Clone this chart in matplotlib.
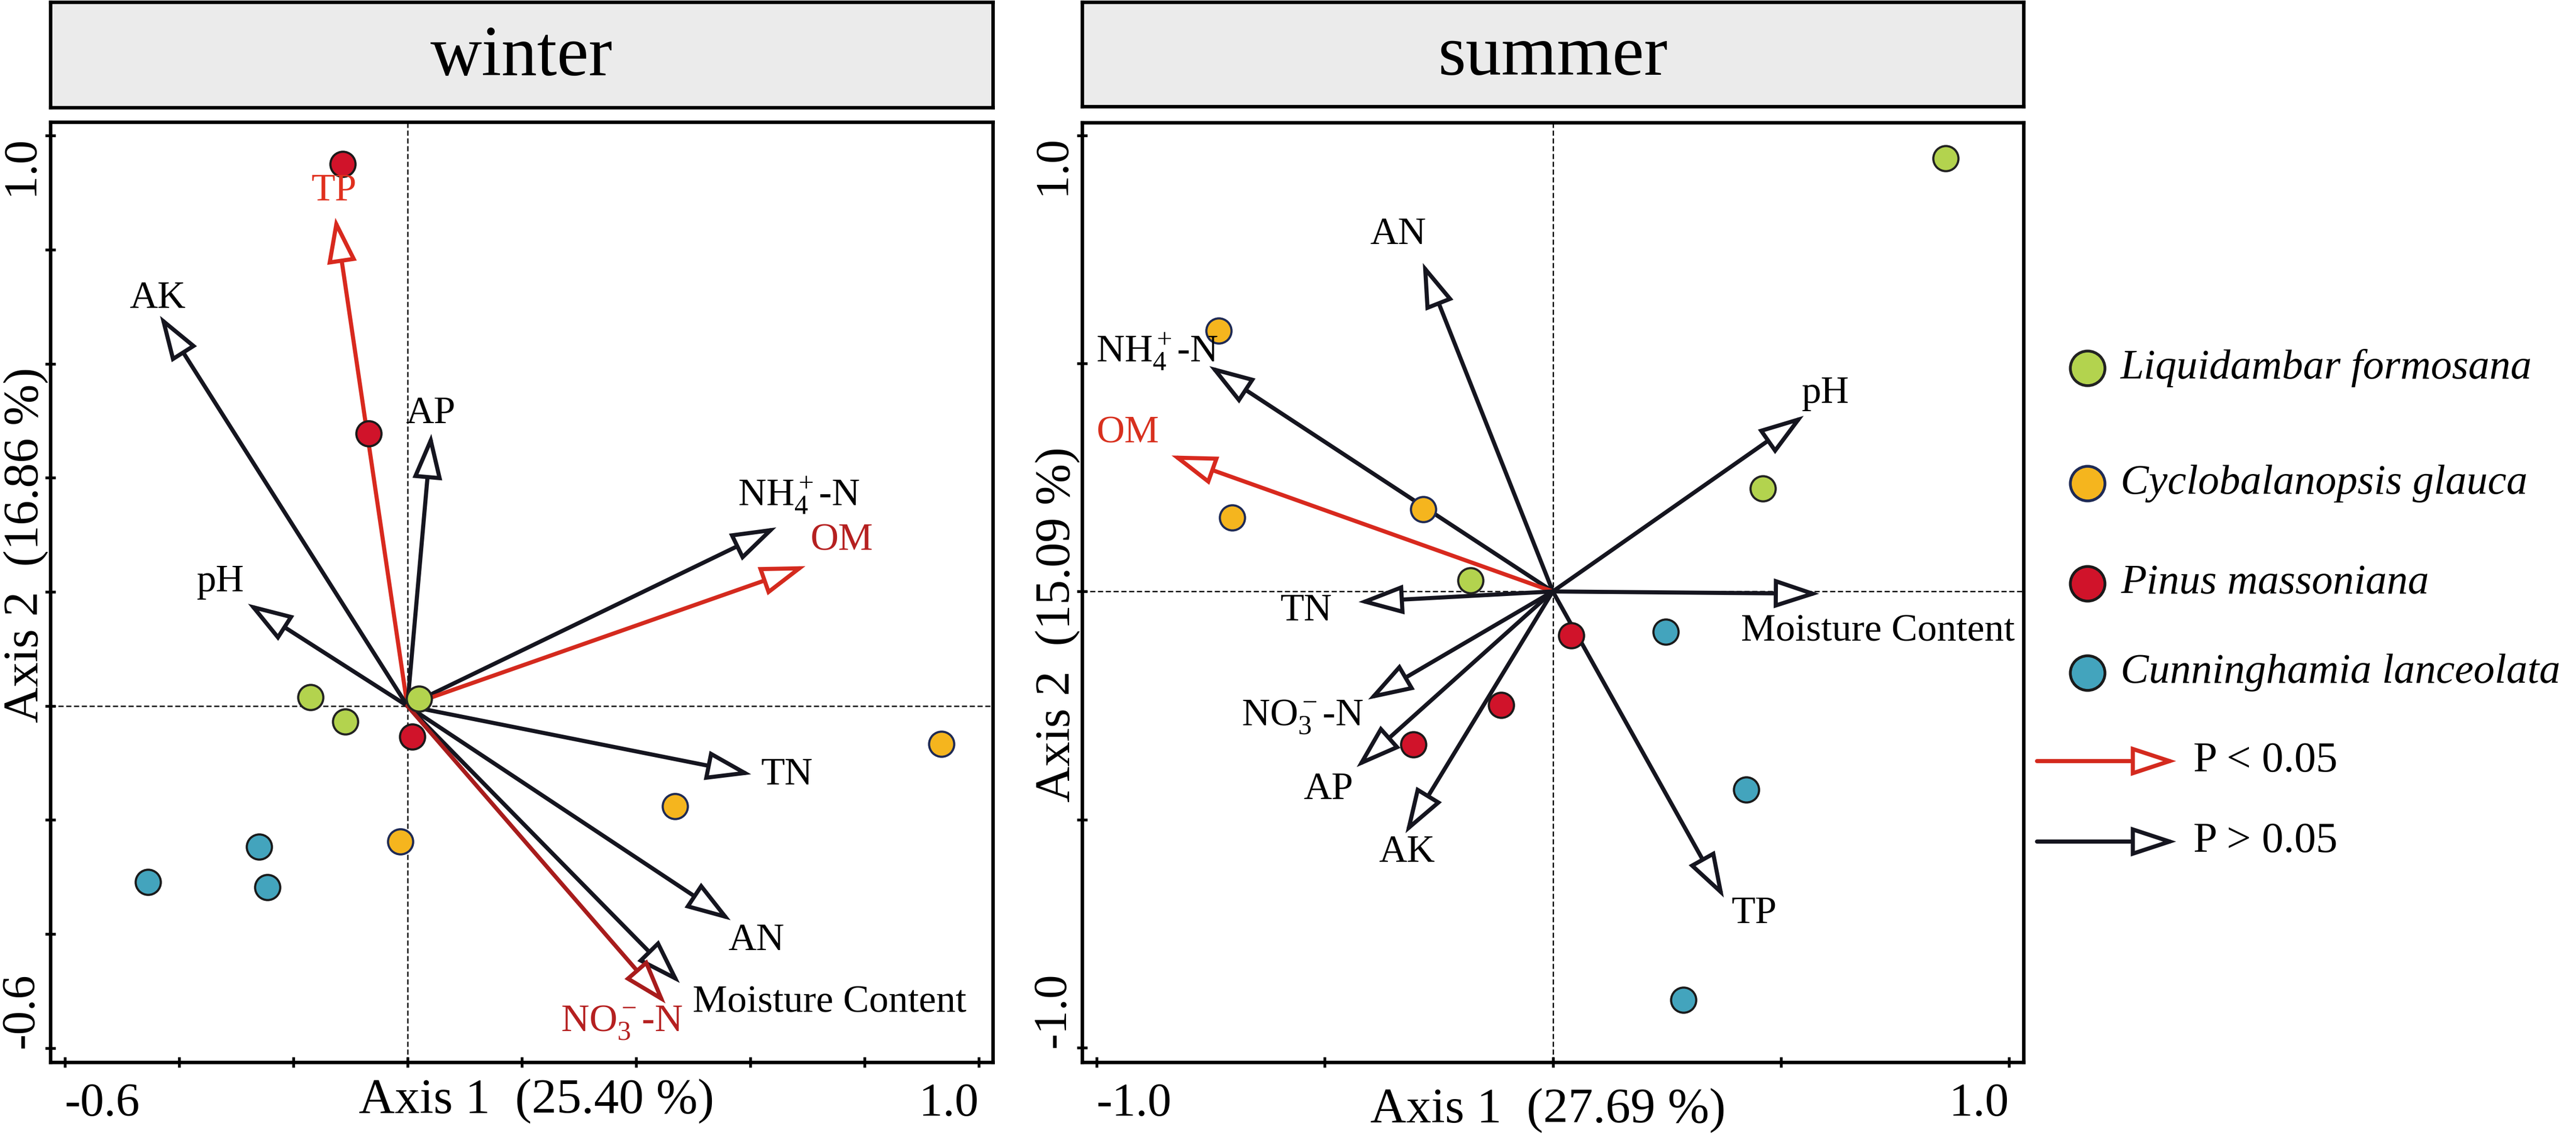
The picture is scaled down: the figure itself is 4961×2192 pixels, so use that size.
import matplotlib
matplotlib.use("Agg")
import matplotlib.pyplot as plt
from matplotlib.patches import FancyArrowPatch
import numpy as np

W, H = 4961, 2192
DPI = 300

plt.rcParams['font.family'] = ['Liberation Serif', 'DejaVu Serif']
plt.rcParams['mathtext.fontset'] = 'custom'
plt.rcParams['mathtext.rm'] = 'Liberation Serif'
plt.rcParams['mathtext.it'] = 'Liberation Serif:italic'
plt.rcParams['mathtext.bf'] = 'Liberation Serif:bold'

# ---- data -------------------------------------------------------------
species = ["Liquidambar formosana", "Cyclobalanopsis glauca",
           "Pinus massoniana", "Cunninghamia lanceolata"]
species_colors = ["#b3d34e", "#f5b51e", "#d0132a", "#43a4bd"]
species_edges = ["#222222", "#1e2a55", "#1a1a1a", "#1a1a1a"]

# three plots per species, same order in both seasons
site_species = [0, 0, 0, 1, 1, 1, 2, 2, 2, 3, 3, 3]

winter_site_x = [-0.170, -0.109, 0.020, 0.935, 0.469, -0.012,
                 -0.113, -0.068, 0.009, -0.260, -0.454, -0.245]
winter_site_y = [0.015, -0.028, 0.012, -0.067, -0.176, -0.238,
                 0.950, 0.478, -0.054, -0.247, -0.309, -0.318]

summer_site_x = [0.861, 0.461, -0.181, -0.733, -0.703, -0.284,
                 0.040, -0.113, -0.306, 0.248, 0.424, 0.286]
summer_site_y = [0.950, 0.226, 0.024, 0.572, 0.162, 0.180,
                 -0.096, -0.249, -0.335, -0.088, -0.435, -0.895]

winter_vars = ["TP", "AK", "AP", r"NH$_4^+$-N", "OM", "pH", "TN", "AN",
               "Moisture Content", r"NO$_3^-$-N"]
winter_vec_x = [-0.126, -0.433, 0.042, 0.646, 0.697, -0.279, 0.602, 0.566, 0.477, 0.452]
winter_vec_y = [0.856, 0.684, 0.477, 0.313, 0.245, 0.179, -0.120, -0.376, -0.486, -0.522]
winter_sig = [True, False, False, False, True, False, False, False, False, True]

summer_vars = ["AN", r"NH$_4^+$-N", "OM", "pH", "TN", "Moisture Content",
               r"NO$_3^-$-N", "AP", "AK", "TP"]
summer_vec_x = [-0.285, -0.753, -0.836, 0.550, -0.426, 0.584, -0.405, -0.430, -0.323, 0.375]
summer_vec_y = [0.720, 0.494, 0.298, 0.385, -0.023, -0.005, -0.237, -0.385, -0.530, -0.671]
summer_sig = [False, False, True, False, False, False, False, False, False, False]

winter_axis = ["Axis 1  (25.40 %)", "Axis 2  (16.86 %)"]
summer_axis = ["Axis 1  (27.69 %)", "Axis 2  (15.09 %)"]

# ---- layout (label placement, colours) -------------------------------
winter_lab_x = [-0.128, -0.437, 0.041, 0.685, 0.761, -0.327, 0.665, 0.611, 0.739, 0.375]
winter_lab_y = [0.903, 0.714, 0.512, 0.369, 0.289, 0.217, -0.122, -0.412, -0.521, -0.556]
winter_arrow_col = ["#d8291e", "#15151f", "#15151f", "#15151f", "#d42a1e",
                    "#15151f", "#15151f", "#15151f", "#15151f", "#a81c1c"]
winter_lab_col = ["#e0301e", "k", "k", "k", "#b52020", "k", "k", "k", "k", "#b52020"]

summer_lab_x = [-0.339, -0.868, -0.932, 0.598, -0.541, 0.713, -0.549, -0.492, -0.320, 0.442]
summer_lab_y = [0.782, 0.526, 0.346, 0.434, -0.043, -0.088, -0.276, -0.435, -0.573, -0.707]
summer_arrow_col = ["#15151f", "#15151f", "#d8291e", "#15151f", "#15151f",
                    "#15151f", "#15151f", "#15151f", "#15151f", "#15151f"]
summer_lab_col = ["k", "k", "#d8301e", "k", "k", "k", "k", "k", "k", "k"]

ARROW = "-|>,head_length=0.85,head_width=0.28"


def px_rect(x0, y0, x1, y1):
    return [x0 / W, 1 - y1 / H, (x1 - x0) / W, (y1 - y0) / H]


def draw_arrow(ax, x, y, color):
    ax.add_patch(FancyArrowPatch((0, 0), (x, y), arrowstyle=ARROW,
                                 mutation_scale=20, lw=1.9, ec=color, fc="white",
                                 shrinkA=0, shrinkB=0, joinstyle="miter", zorder=3))


def draw_panel(ax, sx, sy, vx, vy, names, lab_x, lab_y, arrow_col, lab_col,
               xlim, ylim, xticks, yticks, axis_names, xlab_pos, ylab_pos):
    ax.set_xlim(*xlim)
    ax.set_ylim(*ylim)
    ax.axhline(0, color="k", lw=0.6, ls=(0, (4, 2)), zorder=1)
    ax.axvline(0, color="k", lw=0.6, ls=(0, (4, 2)), zorder=1)

    for i in range(len(names)):
        draw_arrow(ax, vx[i], vy[i], arrow_col[i])
        ax.text(lab_x[i], lab_y[i], names[i], color=lab_col[i], fontsize=18,
                ha="center", va="center", zorder=5)

    for g in range(len(species)):
        idx = [k for k, s in enumerate(site_species) if s == g]
        ax.scatter([sx[k] for k in idx], [sy[k] for k in idx], s=135,
                   color=species_colors[g], edgecolors=species_edges[g],
                   linewidths=1.0, zorder=4)

    for sp in ax.spines.values():
        sp.set_linewidth(1.6)
    ax.tick_params(direction="inout", length=5, width=1.3, top=False, right=False,
                   labelsize=22)
    ax.tick_params(axis="x", pad=7)
    ax.tick_params(axis="y", pad=1)

    ax.set_xticks(xticks)
    ax.set_xticklabels([f"{xticks[0]:.1f}"] + [""] * (len(xticks) - 2) + [f"{xticks[-1]:.1f}"])
    ax.set_yticks(yticks)
    ax.set_yticklabels([f"{yticks[0]:.1f}"] + [""] * (len(yticks) - 2) + [f"{yticks[-1]:.1f}"],
                       rotation=90)
    xt = ax.xaxis.get_major_ticks()
    xt[0].label1.set_ha("left")
    xt[-1].label1.set_ha("right")
    yt = ax.yaxis.get_major_ticks()
    yt[0].label1.set_va("bottom")
    yt[-1].label1.set_va("top")
    for t in yt:
        t.label1.set_ha("right")

    ax.set_xlabel(axis_names[0], fontsize=23)
    ax.set_ylabel(axis_names[1], fontsize=23)
    ax.xaxis.label.set_va("center")
    ax.yaxis.label.set_va("center")
    ax.xaxis.set_label_coords(xlab_pos[0], xlab_pos[1])
    ax.yaxis.set_label_coords(ylab_pos[0], ylab_pos[1])


def title_box(fig, rect, text):
    tb = fig.add_axes(rect)
    tb.set_facecolor("#ebebeb")
    tb.set_xticks([])
    tb.set_yticks([])
    for sp in tb.spines.values():
        sp.set_linewidth(1.6)
    tb.text(0.5, 0.47, text, fontsize=33, ha="center", va="center", transform=tb.transAxes)


fig = plt.figure(figsize=(W / DPI, H / DPI), dpi=DPI)

ax_w = fig.add_axes(px_rect(97, 235, 1912, 2046))
draw_panel(ax_w, winter_site_x, winter_site_y, winter_vec_x, winter_vec_y, winter_vars,
           winter_lab_x, winter_lab_y, winter_arrow_col, winter_lab_col,
           (-0.625, 1.025), (-0.625, 1.024),
           np.round(np.arange(-0.6, 1.001, 0.2), 1), np.round(np.arange(-0.6, 1.001, 0.2), 1),
           winter_axis, (0.516, -0.041), (-0.026, 0.55))

ax_s = fig.add_axes(px_rect(2084, 236, 3897, 2046))
draw_panel(ax_s, summer_site_x, summer_site_y, summer_vec_x, summer_vec_y, summer_vars,
           summer_lab_x, summer_lab_y, summer_arrow_col, summer_lab_col,
           (-1.032, 1.032), (-1.032, 1.028),
           np.round(np.arange(-1.0, 1.001, 0.5), 1), np.round(np.arange(-1.0, 1.001, 0.5), 1),
           summer_axis, (0.495, -0.051), (-0.026, 0.466))

title_box(fig, px_rect(97, 4, 1912, 207), "winter")
title_box(fig, px_rect(2084, 4, 3897, 205), "summer")

# ---- legend (overlay in pixel units) ---------------------------------
lg = fig.add_axes([0, 0, 1, 1], zorder=10)
lg.set_xlim(0, W)
lg.set_ylim(H, 0)
lg.axis("off")
lg.patch.set_alpha(0)

leg_rows = [709, 931, 1124, 1296]
for g in range(len(species)):
    lg.plot([4020], [leg_rows[g]], "o", ms=16, color=species_colors[g],
            mec=species_edges[g], mew=1.3)
    lg.text(4084, leg_rows[g], species[g], fontsize=19.5, fontstyle="italic",
            ha="left", va="center")

for yrow, col, lab in [(1466, "#d42a1e", "P < 0.05"), (1621, "#15151f", "P > 0.05")]:
    lg.add_patch(FancyArrowPatch((3923, yrow), (4191, yrow), arrowstyle=ARROW,
                                 mutation_scale=20, lw=1.9, ec=col, fc="white",
                                 shrinkA=0, shrinkB=0, joinstyle="miter"))
    lg.text(4224, yrow, lab, fontsize=20, ha="left", va="center")

fig.savefig("out.png", dpi=DPI)
